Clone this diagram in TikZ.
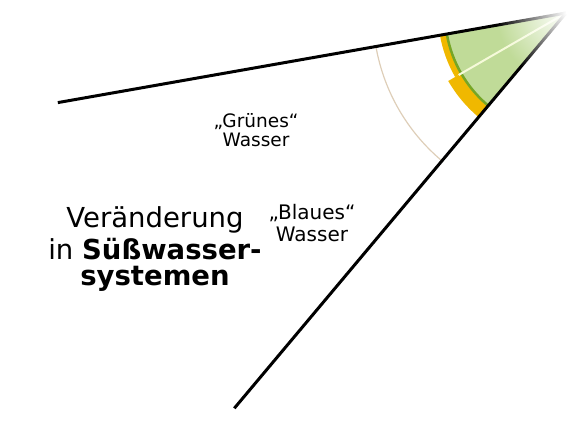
\documentclass[tikz,border=0pt]{standalone}
\usepackage{fontspec}
\setmainfont{DejaVu Sans}
\usetikzlibrary{fadings}
\definecolor{gold}{RGB}{240,184,0}
\definecolor{leaf}{RGB}{118,166,38}
\definecolor{greenwater}{RGB}{192,219,152}
\definecolor{tan}{RGB}{222,206,184}
\definecolor{paleline}{RGB}{246,250,218}
\tikzstyle{boundary}=[draw=black,line width=3pt]
\tikzstyle{water label}=[align=center,inner sep=0pt]
\tikzstyle{change label}=[anchor=base,inner sep=0pt,font=\fontsize{27.5}{30}\selectfont]
\tikzfading[name=apex fade, inner color=transparent!0, outer color=transparent!100]

\begin{document}
\begin{tikzpicture}[x=1pt,y=1pt]
    \useasboundingbox (0,0) rectangle (576,-436);
    \coordinate (apex) at (566,-13);
    % green water wedge
    \fill[greenwater] (apex) -- ([shift={(190:121pt)}]apex)
        arc[start angle=190,end angle=230,radius=121pt] -- cycle;
    \foreach \from/\to/\r in {190/210/128, 210/230/136} {
        \fill[gold] ([shift={(\from:121pt)}]apex) arc[start angle=\from,end angle=\to,radius=121pt]
            -- ([shift={(\to:\r pt)}]apex) arc[start angle=\to,end angle=\from,radius=\r pt] -- cycle;
    };
    \draw[leaf,line width=2.5pt] ([shift={(190:121pt)}]apex) arc[start angle=190,end angle=230,radius=121pt];
    \coordinate (split) at ([shift={(210:124pt)}]apex);
    \draw[paleline,line width=2pt] (apex) -- (split);
    \draw[tan,line width=1.2pt] ([shift={(190:193pt)}]apex) arc[start angle=190,end angle=230,radius=193pt];
    \foreach \a/\n in {190/upper, 230/lower} {
        \coordinate (\n end) at ([shift={(\a:516pt)}]apex);
        \draw[boundary] (apex) -- (\n end);
    };
    \fill[white,path fading=apex fade] (apex) circle (70pt);
    \node[water label,font=\fontsize{18.5}{19.7}\selectfont] (green water) at (256,-130) {„Grünes“\\Wasser};
    \node[water label,font=\fontsize{20}{21.7}\selectfont] (blue water) at (312,-223) {„Blaues“\\Wasser};
    \node[change label] (change) at (155,-227) {Veränderung};
    \node[change label] (change in) at (155,-259) {in \textbf{Süßwasser-}};
    \node[change label,font=\fontsize{27.5}{30}\selectfont\bfseries] (change systems) at (155,-285) {systemen};
\end{tikzpicture}
\end{document}
